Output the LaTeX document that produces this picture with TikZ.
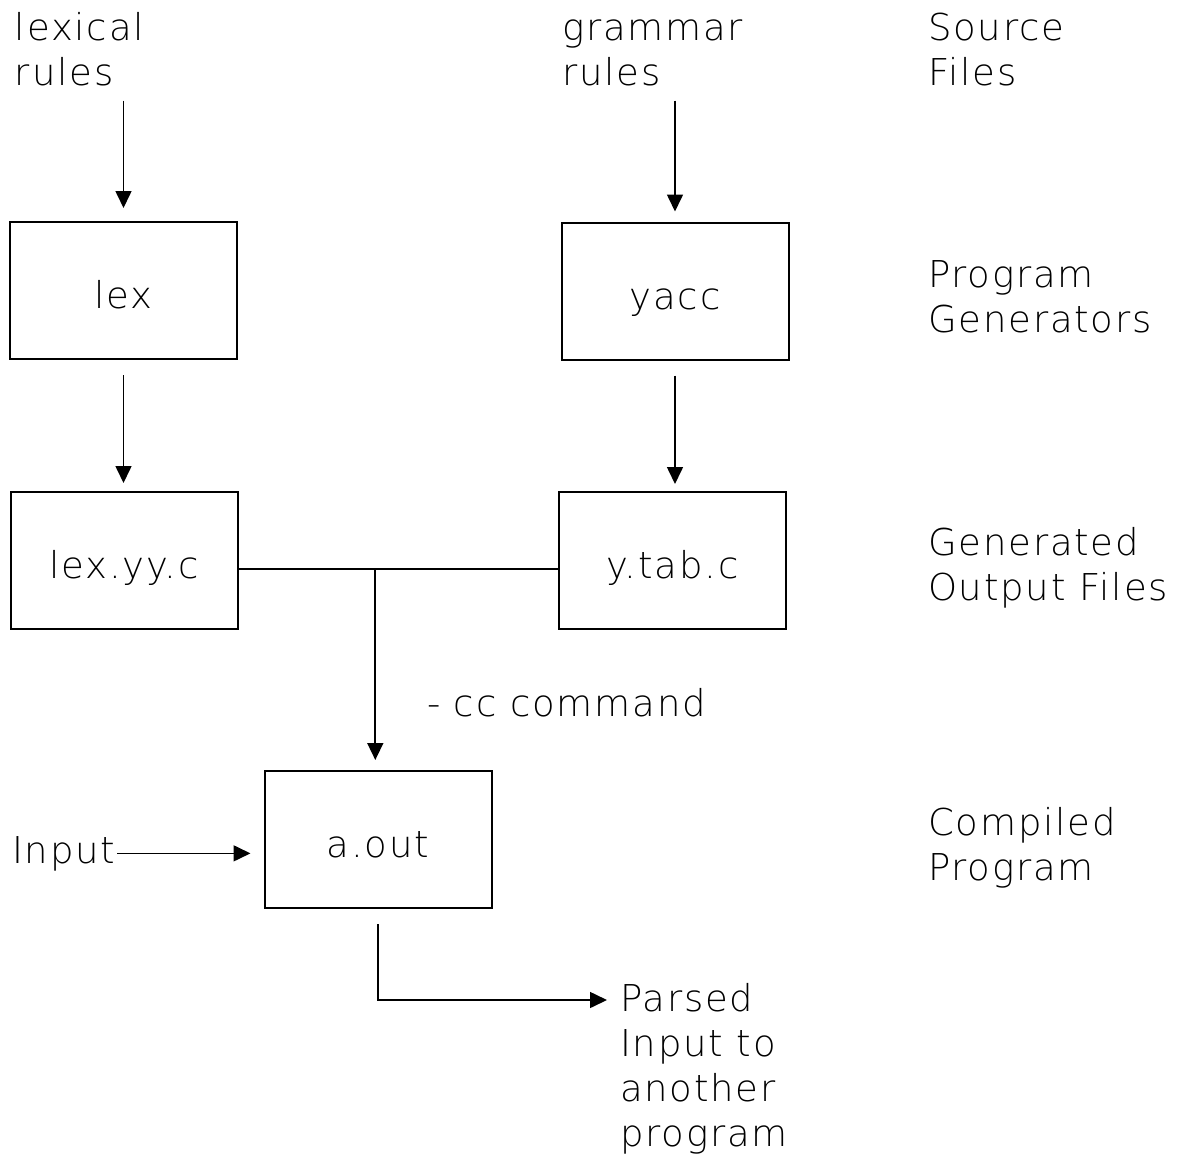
\documentclass[tikz,border=0pt]{standalone}
\usepackage{fontspec}
\setmainfont{DejaVu Sans ExtraLight}[LetterSpace=5]
\usetikzlibrary{arrows.meta}
\begin{document}
\begin{tikzpicture}[x=0.5pt,y=-0.5pt,
  every node/.style={font=\fontsize{18.5}{22.5}\selectfont, inner sep=0pt, outer sep=0pt},
  lbl/.style={anchor=base west, align=left},
  box/.style={draw, line width=1pt, minimum width=113.5pt, minimum height=68.5pt,
              text height=18pt, text depth=0pt},
  arr/.style={-{Triangle[length=8.5pt,width=8pt]}, line width=0.8pt},
  ln/.style={line width=0.8pt}]
\useasboundingbox (0,0) rectangle (1190,1157);

% source texts and level captions (anchored at the baseline of the last line)
\node[lbl] (lexsrc)  at (15,85)   {lexical\\rules};
\node[lbl] (gramsrc) at (562,85)  {grammar\\rules};
\node[lbl] (capsrc)  at (928,85)  {Source\\Files};
\node[lbl] (capgen)  at (928,332) {Program\\Generators};
\node[lbl] (capout)  at (928,600) {Generated\\Output Files};
\node[lbl] (capprog) at (928,880) {Compiled\\Program};

% boxes
\node[box] (lex)   at (123.5,290.5) {lex};
\node[box] (yacc)  at (675,291)     {yacc};
\node[box] (lexyy) at (124,560.5)   {lex.yy.c};
\node[box] (ytab)  at (672.5,560.5) {y.tab.c};
\node[box] (aout)  at (378,839.5)   {a.out};

% other labels
\node[lbl] (input)  at (12,863)   {Input};
\node[lbl] (cc)     at (427,716)  {- cc command};
\node[lbl] (parsed) at (620,1146) {Parsed\\Input to\\another\\program};
\coordinate (parsedin) at (607,1000);

% connectors
\draw[arr, shorten <=7.5pt, shorten >=7pt] (lex.north |- lexsrc.south) -- (lex.north);
\draw[arr, shorten <=8pt, shorten >=4.5pt] (lex.south) -- (lexyy.north -| lex.south);
\draw[arr, shorten <=7.5pt, shorten >=5.5pt] (yacc.north |- gramsrc.south) -- (yacc.north);
\draw[arr, shorten <=8pt, shorten >=4pt] (yacc.south) -- (ytab.north -| yacc.south);
\draw[ln] ([yshift=-4.25pt]lexyy.east) -- coordinate[pos=0.4286] (junc) ([yshift=-4.25pt]ytab.west);
\draw[arr, shorten >=5.5pt] (junc) -- (junc |- aout.north);
\draw[arr, shorten <=1pt, shorten >=7pt] (input.east) -- (input.east -| aout.west);
\draw[arr, shorten <=8pt] (aout.south) |- (parsedin);
\end{tikzpicture}
\end{document}
